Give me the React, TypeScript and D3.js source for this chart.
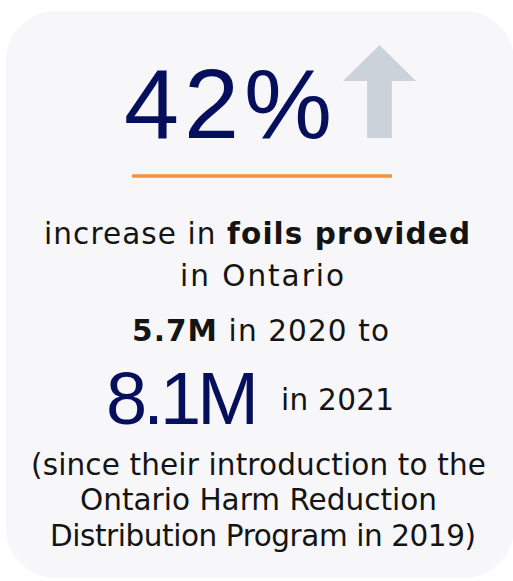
import React from "react";
import * as d3 from "d3";

const years = [2020, 2021];
const foilsMillions = [5.7, 8.1];
const increasePct = [42];
const introYear = [2019];
const region = ["Ontario"];

const W = 513;
const H = 581;
const NAVY = "#060f5c";
const INK = "#141414";
const BODY_FONT = "'DejaVu Sans', sans-serif";
const BIG_FONT = "'Liberation Sans', Arial, sans-serif";

export default function App() {
  const fmtM = (v: number) => d3.format(".1f")(v) + "M";
  const pct = d3.format("d")(increasePct[0]) + "%";

  const ax = d3.scaleLinear().domain([0, 1]).range([343, 416]);
  const ay = d3.scaleLinear().domain([0, 1]).range([45, 138]);
  const arrowPts: [number, number][] = [
    [0.5, 0],
    [1, 0.387],
    [0.67, 0.387],
    [0.67, 1],
    [0.33, 1],
    [0.33, 0.387],
    [0, 0.387],
  ];
  const arrowPath = d3.line()(arrowPts.map(([x, y]) => [ax(x), ay(y)]))! + "Z";

  const bodySize = 29.5;
  const fit = { lengthAdjust: "spacing" as const };
  return (
    <svg
      width={W}
      height={H}
      viewBox={`0 0 ${W} ${H}`}
      style={{ position: "absolute", left: 0, top: 0, background: "#ffffff" }}
    >
      <rect x={6} y={11} width={508} height={567} rx={50} ry={50} fill="#f7f7fa" />
      <text
        x={124}
        y={138}
        fontFamily={BIG_FONT}
        fontSize={99}
        fill={NAVY}
        textLength={208}
        {...fit}
      >
        {pct}
      </text>
      <path d={arrowPath} fill="#cbd2da" />
      <line x1={132} x2={392} y1={176} y2={176} stroke="#f4953b" strokeWidth={3.5} />

      <g fontFamily={BODY_FONT} fontSize={bodySize} fill={INK}>
        <text x={44} y={244} textLength={426} {...fit}>
          increase in <tspan fontWeight="bold">foils provided</tspan>
        </text>
        <text x={180} y={286} textLength={164} {...fit}>in {region[0]}</text>
        <text x={132} y={341} textLength={257} {...fit}>
          <tspan fontWeight="bold">{fmtM(foilsMillions[0])}</tspan> in {years[0]} to
        </text>
        <text x={31} y={475} textLength={455} {...fit}>(since their introduction to the</text>
        <text x={80} y={510} textLength={357} {...fit}>{region[0]} Harm Reduction</text>
        <text x={50} y={546} textLength={426} {...fit}>
          Distribution Program in {introYear[0]})
        </text>
        <text x={281} y={410} textLength={113} {...fit}>in {years[1]}</text>
      </g>
      <text
        x={106}
        y={424}
        fontFamily={BIG_FONT}
        fontSize={74}
        fill={NAVY}
        textLength={153}
        {...fit}
      >
        {fmtM(foilsMillions[1])}
      </text>
    </svg>
  );
}
